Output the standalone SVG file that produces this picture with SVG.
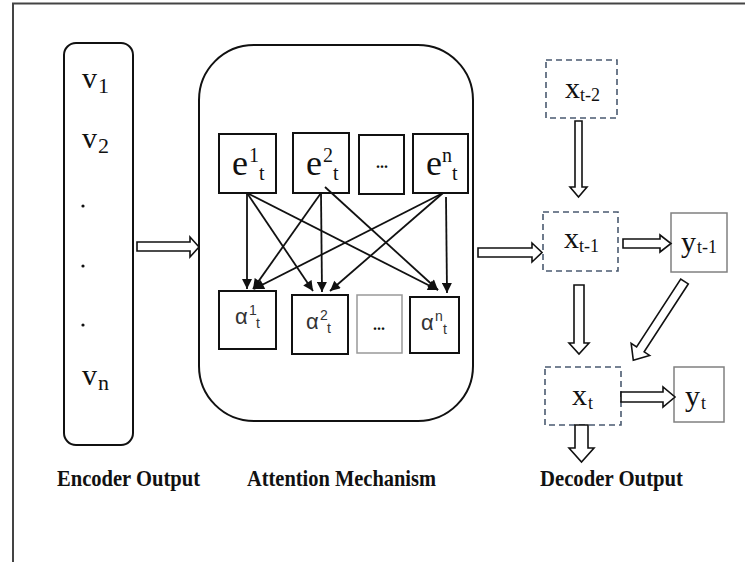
<svg xmlns="http://www.w3.org/2000/svg" width="745" height="562" viewBox="0 0 745 562">
  <style>
    .frame { fill: none; stroke: #444; stroke-width: 2; }
    .panel { fill: none; stroke: #111; stroke-width: 2; }
    .box { fill: #fff; stroke: #111; stroke-width: 2; }
    .box-faint { fill: #fff; stroke: #999; stroke-width: 1.5; }
    .dash { fill: #fff; stroke: #4a5a70; stroke-width: 1.6; stroke-dasharray: 6 4; }
    .ybox { fill: #fff; stroke: #808080; stroke-width: 1.5; }
    .block { fill: #fff; stroke: #111; stroke-width: 1.6; stroke-linejoin: miter; }
    .link { stroke: #111; stroke-width: 1.8; fill: none; }
    .tm { font-family: "Liberation Serif", "Times New Roman", serif; fill: #111; }
    .sans { font-family: "Liberation Sans", Arial, sans-serif; fill: #333; }
    .v { font-size: 30px; }
    .vs { font-size: 22px; }
    .e { font-size: 36px; }
    .es { font-size: 20px; }
    .a { font-size: 22px; }
    .as { font-size: 14px; }
    .x { font-size: 30px; }
    .xs { font-size: 18px; }
    .dots { font-size: 16px; font-weight: bold; }
    .lbl { font-size: 24px; font-weight: bold; }
  </style>
  <defs>
    <marker id="head" viewBox="0 0 10 10" refX="10" refY="5" markerWidth="11" markerHeight="10" markerUnits="userSpaceOnUse" orient="auto">
      <path d="M0,0 L10,5 L0,10 z" fill="#111"/>
    </marker>
  </defs>

  <rect width="745" height="562" fill="#fff"/>
  <path class="frame" d="M13,562 V3.5 H745"/>

  <!-- encoder output column -->
  <g id="encoder">
    <rect class="panel" x="64" y="43" width="69" height="402" rx="12"/>
    <text class="tm v" x="82" y="88">v</text><text class="tm vs" x="98" y="93">1</text>
    <text class="tm v" x="82" y="148">v</text><text class="tm vs" x="98" y="153">2</text>
    <circle cx="83" cy="206" r="1.6" fill="#111"/>
    <circle cx="83" cy="266" r="1.6" fill="#111"/>
    <circle cx="83" cy="325" r="1.6" fill="#111"/>
    <text class="tm v" x="82" y="385">v</text><text class="tm vs" x="98" y="390">n</text>
  </g>

  <!-- attention mechanism panel -->
  <g id="attention">
    <rect class="panel" x="199" y="45" width="274" height="376" rx="55"/>
  </g>

  <g id="e1">
    <rect class="box" x="219" y="134" width="57" height="59"/>
    <text class="tm e" x="232" y="175">e</text><text class="tm es" x="249" y="162">1</text><text class="tm es" x="259" y="180">t</text>
  </g>
  <g id="e2">
    <rect class="box" x="293" y="133" width="56" height="60"/>
    <text class="tm e" x="306" y="175">e</text><text class="tm es" x="323" y="162">2</text><text class="tm es" x="333" y="180">t</text>
  </g>
  <g id="e-dots">
    <rect class="box" x="359" y="135" width="45" height="59"/>
    <text class="tm dots" x="382" y="168" text-anchor="middle">...</text>
  </g>
  <g id="en">
    <rect class="box" x="413" y="134" width="55" height="59"/>
    <text class="tm e" x="426" y="175">e</text><text class="tm es" x="442" y="162">n</text><text class="tm es" x="452" y="180">t</text>
  </g>

  <g id="a1">
    <rect class="box" x="219" y="291" width="57" height="58"/>
    <text class="sans a" x="235" y="324">α</text><text class="sans as" x="249" y="315">1</text><text class="sans as" x="256" y="328">t</text>
  </g>
  <g id="a2">
    <rect class="box" x="292" y="295" width="56" height="59"/>
    <text class="sans a" x="306" y="329">α</text><text class="sans as" x="320" y="320">2</text><text class="sans as" x="327" y="333">t</text>
  </g>
  <g id="a-dots">
    <rect class="box-faint" x="357" y="295" width="45" height="58"/>
    <text class="tm dots" x="379" y="330" text-anchor="middle">...</text>
  </g>
  <g id="an">
    <rect class="box" x="410" y="297" width="49" height="56"/>
    <text class="sans a" x="421" y="330">α</text><text class="sans as" x="435" y="321">n</text><text class="sans as" x="443" y="334">t</text>
  </g>

  <!-- decoder states -->
  <g id="x-t-2">
    <rect class="dash" x="546" y="60" width="71" height="58"/>
    <text class="tm x" x="565" y="98">x</text><text class="tm xs" x="580" y="101">t-2</text>
  </g>
  <g id="x-t-1">
    <rect class="dash" x="543" y="212" width="75" height="59"/>
    <text class="tm x" x="564" y="248">x</text><text class="tm xs" x="579" y="252">t-1</text>
  </g>
  <g id="x-t">
    <rect class="dash" x="545" y="367" width="76" height="58"/>
    <text class="tm x" x="572" y="405">x</text><text class="tm xs" x="588" y="409">t</text>
  </g>
  <g id="y-t-1">
    <rect class="ybox" x="671" y="213" width="56" height="59"/>
    <text class="tm x" x="681" y="252">y</text><text class="tm xs" x="697" y="253">t-1</text>
  </g>
  <g id="y-t">
    <rect class="ybox" x="674" y="367" width="50" height="55"/>
    <text class="tm x" x="685" y="406">y</text><text class="tm xs" x="701" y="409">t</text>
  </g>

  <!-- connectors -->
  <g id="connectors">
    <!-- score-to-weight links -->
    <line class="link" x1="247" y1="193" x2="247" y2="289" marker-end="url(#head)"/>
    <line class="link" x1="247" y1="193" x2="313" y2="291" marker-end="url(#head)"/>
    <line class="link" x1="247" y1="193" x2="438" y2="290" marker-end="url(#head)"/>
    <line class="link" x1="321" y1="193" x2="253" y2="289" marker-end="url(#head)"/>
    <line class="link" x1="321" y1="193" x2="322" y2="292" marker-end="url(#head)"/>
    <line class="link" x1="325" y1="187" x2="438" y2="290" marker-end="url(#head)"/>
    <line class="link" x1="443" y1="193" x2="254" y2="289" marker-end="url(#head)"/>
    <line class="link" x1="443" y1="193" x2="330" y2="291" marker-end="url(#head)"/>
    <line class="link" x1="446" y1="197" x2="447" y2="293" marker-end="url(#head)"/>

    <!-- hollow block arrows -->
    <polygon class="block" points="137,242 190,242 190,237 199,247 190,257 190,251 137,251"/>
    <polygon class="block" points="478,248 532,248 532,243 542,252.5 532,262 532,257 478,257"/>
    <polygon class="block" points="575,121 582,121 582,187 587,187 578.5,197 570,187 575,187"/>
    <polygon class="block" points="623,239 660,239 660,235 671,243.5 660,252 660,248 623,248"/>
    <polygon class="block" points="574,285 584,285 584,343 589,343 579,354 569,343 574,343"/>
    <polygon class="block" points="0,-4.5 81,-4.5 81,-11 94,0 81,11 81,4.5 0,4.5" transform="translate(684.5,281.5) rotate(123)"/>
    <polygon class="block" points="621,392 663,392 663,387 675,397 663,407 663,402 621,402"/>
    <polygon class="block" points="575,425 588,425 588,448 594,448 581.5,462 569,448 575,448"/>
  </g>

  <!-- captions -->
  <text class="tm lbl" x="57" y="486" textLength="143" lengthAdjust="spacingAndGlyphs">Encoder Output</text>
  <text class="tm lbl" x="247" y="486" textLength="189" lengthAdjust="spacingAndGlyphs">Attention Mechanism</text>
  <text class="tm lbl" x="540" y="486" textLength="143" lengthAdjust="spacingAndGlyphs">Decoder Output</text>
</svg>
